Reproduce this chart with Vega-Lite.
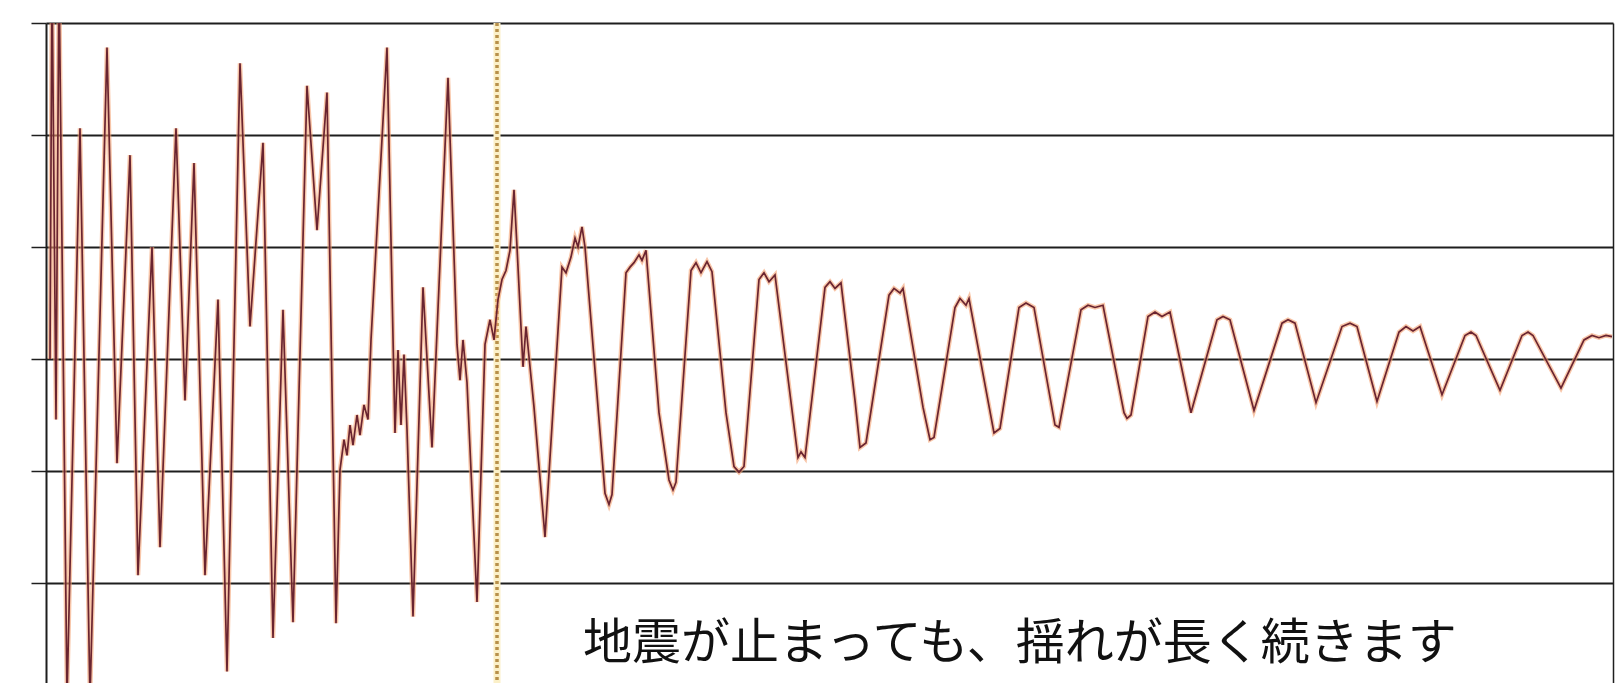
{
  "$schema": "https://vega.github.io/schema/vega-lite/v6.json",
  "width": 1567,
  "height": 660,
  "autosize": {"type": "none"},
  "padding": {"left": 46, "top": 23, "right": 11, "bottom": 0},
  "background": "white",
  "config": {"view": {"stroke": null}},
  "datasets": {
    "wave": [
      {"t":0.4,"v":0},{"t":0.6,"v":3.47},{"t":1.0,"v":-0.54},{"t":1.3,"v":3.47},{"t":2.1,"v":-3.04},
      {"t":3.4,"v":2.06},{"t":4.4,"v":-3.04},{"t":6.1,"v":2.78},{"t":7.1,"v":-0.93},{"t":8.4,"v":1.82},
      {"t":9.2,"v":-1.93},{"t":10.6,"v":1.0},{"t":11.4,"v":-1.68},{"t":13.0,"v":2.06},{"t":13.9,"v":-0.37},
      {"t":14.8,"v":1.75},{"t":15.9,"v":-1.93},{"t":17.2,"v":0.53},{"t":18.1,"v":-2.79},{"t":19.4,"v":2.64},
      {"t":20.4,"v":0.29},{"t":21.7,"v":1.93},{"t":22.7,"v":-2.49},{"t":23.7,"v":0.44},{"t":24.7,"v":-2.35},
      {"t":26.1,"v":2.44},{"t":27.1,"v":1.15},{"t":28.1,"v":2.38},{"t":29.0,"v":-2.36},{"t":29.4,"v":-0.99},
      {"t":29.8,"v":-0.72},{"t":30.1,"v":-0.86},{"t":30.4,"v":-0.59},{"t":30.7,"v":-0.77},{"t":31.1,"v":-0.5},
      {"t":31.4,"v":-0.68},{"t":31.8,"v":-0.41},{"t":32.2,"v":-0.54},{"t":32.5,"v":0.17},{"t":34.1,"v":2.78},
      {"t":34.9,"v":-0.66},{"t":35.2,"v":0.08},{"t":35.5,"v":-0.59},{"t":35.8,"v":0.04},{"t":36.1,"v":-0.63},
      {"t":36.7,"v":-2.30},{"t":37.7,"v":0.64},{"t":38.6,"v":-0.79},{"t":40.2,"v":2.51},{"t":41.1,"v":0.13},
      {"t":41.4,"v":-0.19},{"t":41.7,"v":0.17},{"t":42.1,"v":-0.21},{"t":43.1,"v":-2.17},{"t":43.9,"v":0.13},
      {"t":44.4,"v":0.35},{"t":44.8,"v":0.17},{"t":45.2,"v":0.53},{"t":45.6,"v":0.71},{"t":46.0,"v":0.79},
      {"t":46.4,"v":0.97},{"t":46.8,"v":1.51},{"t":47.1,"v":1.0},{"t":47.7,"v":-0.07},{"t":48.0,"v":0.29},
      {"t":48.8,"v":-0.43},{"t":49.9,"v":-1.59},{"t":51.6,"v":0.82},{"t":52.0,"v":0.77},{"t":52.5,"v":0.91},
      {"t":52.9,"v":1.08},{"t":53.2,"v":1.0},{"t":53.6,"v":1.18},{"t":53.9,"v":1.0},{"t":55.9,"v":-1.20},
      {"t":56.3,"v":-1.30},{"t":56.6,"v":-1.21},{"t":58.0,"v":0.77},{"t":58.4,"v":0.82},{"t":58.8,"v":0.86},
      {"t":59.3,"v":0.93},{"t":59.6,"v":0.88},{"t":60.0,"v":0.97},{"t":61.3,"v":-0.48},{"t":62.3,"v":-1.08},
      {"t":62.7,"v":-1.17},{"t":63.0,"v":-1.10},{"t":64.5,"v":0.79},{"t":65.0,"v":0.86},{"t":65.5,"v":0.77},
      {"t":66.1,"v":0.87},{"t":66.6,"v":0.78},{"t":68.0,"v":-0.48},{"t":68.8,"v":-0.96},{"t":69.3,"v":-1.01},
      {"t":69.8,"v":-0.96},{"t":71.3,"v":0.71},{"t":71.8,"v":0.77},{"t":72.3,"v":0.69},{"t":72.9,"v":0.75},
      {"t":75.2,"v":-0.88},{"t":75.5,"v":-0.83},{"t":75.9,"v":-0.88},{"t":77.9,"v":0.64},{"t":78.4,"v":0.69},
      {"t":78.9,"v":0.63},{"t":79.5,"v":0.68},{"t":80.9,"v":-0.37},{"t":81.4,"v":-0.79},{"t":82.0,"v":-0.75},
      {"t":84.3,"v":0.57},{"t":84.8,"v":0.63},{"t":85.4,"v":0.59},{"t":85.7,"v":0.63},{"t":87.7,"v":-0.43},
      {"t":88.4,"v":-0.72},{"t":88.8,"v":-0.70},{"t":90.9,"v":0.46},{"t":91.4,"v":0.54},{"t":92.0,"v":0.48},
      {"t":92.3,"v":0.54},{"t":94.8,"v":-0.66},{"t":95.4,"v":-0.62},{"t":97.3,"v":0.46},{"t":98.0,"v":0.50},
      {"t":98.8,"v":0.46},{"t":100.9,"v":-0.59},{"t":101.3,"v":-0.61},{"t":103.5,"v":0.44},{"t":104.2,"v":0.48},
      {"t":104.9,"v":0.46},{"t":105.7,"v":0.48},{"t":107.8,"v":-0.48},{"t":108.1,"v":-0.53},{"t":108.5,"v":-0.50},
      {"t":110.2,"v":0.38},{"t":110.9,"v":0.42},{"t":111.6,"v":0.38},{"t":112.4,"v":0.42},{"t":114.5,"v":-0.48},
      {"t":117.1,"v":0.35},{"t":117.7,"v":0.38},{"t":118.4,"v":0.35},{"t":120.8,"v":-0.46},{"t":123.6,"v":0.32},
      {"t":124.2,"v":0.35},{"t":124.9,"v":0.32},{"t":127.0,"v":-0.39},{"t":129.6,"v":0.29},{"t":130.4,"v":0.32},
      {"t":131.1,"v":0.29},{"t":133.1,"v":-0.38},{"t":135.3,"v":0.24},{"t":136.0,"v":0.29},{"t":136.7,"v":0.25},
      {"t":137.4,"v":0.29},{"t":139.6,"v":-0.32},{"t":141.9,"v":0.21},{"t":142.5,"v":0.24},{"t":143.0,"v":0.21},
      {"t":145.4,"v":-0.28},{"t":147.6,"v":0.21},{"t":148.2,"v":0.24},{"t":148.7,"v":0.21},{"t":151.5,"v":-0.26},
      {"t":153.8,"v":0.17},{"t":154.6,"v":0.21},{"t":155.3,"v":0.19},{"t":156.0,"v":0.21},{"t":156.6,"v":0.20}
    ],
    "marker": [{"t": 45.1}],
    "note": [{"t": 53.7, "v": -2.68, "text": "地震が止まっても、揺れが長く続きます"}]
  },
  "layer": [
    {
      "data": {"name": "marker"},
      "mark": {"type": "rule", "color": "#fbf0c8", "strokeWidth": 7},
      "encoding": {
        "x": {"field": "t", "type": "quantitative", "scale": {"domain": [0, 156.7], "nice": false, "zero": false}, "axis": null}
      }
    },
    {
      "data": {"name": "marker"},
      "mark": {"type": "rule", "color": "#b8904a", "strokeWidth": 3.5, "strokeDash": [3, 3]},
      "encoding": {
        "x": {"field": "t", "type": "quantitative", "axis": null}
      }
    },
    {
      "data": {"name": "wave"},
      "mark": {"type": "line", "color": "#f4a070", "strokeWidth": 4.5, "opacity": 0.6, "clip": true, "interpolate": "linear"},
      "encoding": {
        "x": {"field": "t", "type": "quantitative", "axis": null},
        "y": {
          "field": "v", "type": "quantitative",
          "scale": {"domain": [-2.893, 3], "nice": false, "zero": false},
          "axis": {
            "orient": "left", "values": [-2, -1, 0, 1, 2, 3], "labels": false, "title": null,
            "grid": true, "gridColor": "#1e1e1e", "gridWidth": 1.8, "gridOpacity": 1,
            "domainColor": "#1e1e1e", "domainWidth": 2, "tickColor": "#1e1e1e", "tickSize": 15, "tickWidth": 1.5
          }
        }
      }
    },
    {
      "data": {"name": "wave"},
      "mark": {"type": "line", "color": "#6a2430", "strokeWidth": 1.7, "clip": true, "interpolate": "linear"},
      "encoding": {
        "x": {"field": "t", "type": "quantitative", "axis": null},
        "y": {"field": "v", "type": "quantitative", "axis": null}
      }
    },
    {
      "data": {"name": "note"},
      "mark": {"type": "text", "align": "left", "baseline": "alphabetic", "font": "Noto Sans CJK JP", "fontSize": 49, "color": "#111111"},
      "encoding": {
        "x": {"field": "t", "type": "quantitative", "axis": null},
        "y": {
          "field": "v", "type": "quantitative",
          "axis": {"orient": "right", "labels": false, "ticks": false, "grid": false, "title": null, "domainColor": "#1e1e1e", "domainWidth": 1.5}
        },
        "text": {"field": "text"}
      }
    }
  ],
  "resolve": {"axis": {"y": "independent"}}
}
